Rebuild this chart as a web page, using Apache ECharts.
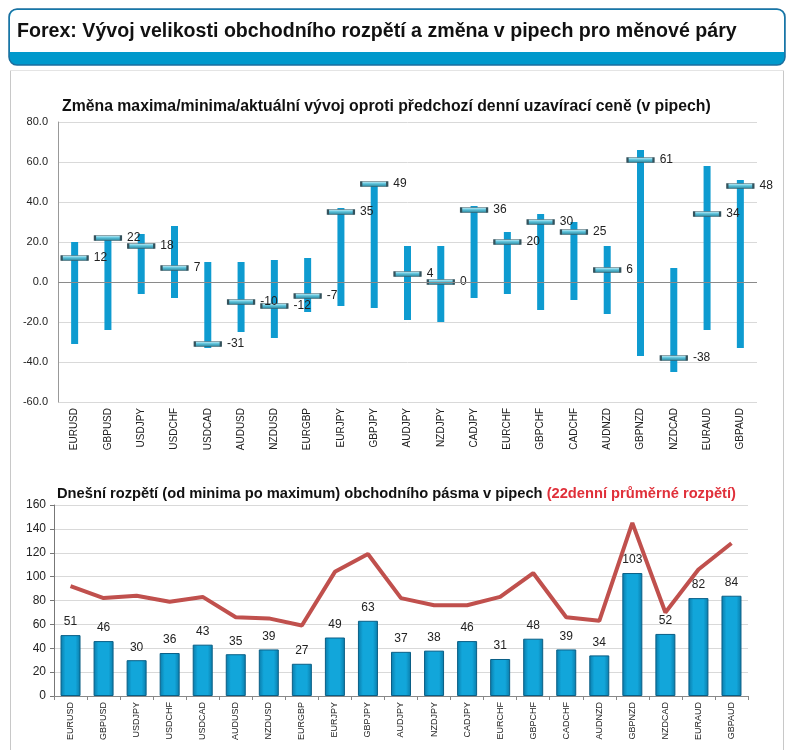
<!DOCTYPE html>
<html>
<head>
<meta charset="utf-8">
<script src="https://cdn.jsdelivr.net/npm/echarts@6/dist/echarts.min.js"></script>
<style>
html,body{margin:0;padding:0;background:#fff;}
#c{width:792px;height:750px;}
</style>
</head>
<body>
<div id="c"></div>
<script>
const categories = ['EURUSD','GBPUSD','USDJPY','USDCHF','USDCAD','AUDUSD','NZDUSD','EURGBP','EURJPY','GBPJPY','AUDJPY','NZDJPY','CADJPY','EURCHF','GBPCHF','CADCHF','AUDNZD','GBPNZD','NZDCAD','EURAUD','GBPAUD'];
const highs = [20,22,24,28,10,10,11,12,37,50,18,18,38,25,34,30,18,66,7,58,51];
const lows = [-31,-24,-6,-8,-33,-25,-28,-15,-12,-13,-19,-20,-8,-6,-14,-9,-16,-37,-45,-24,-33];
const current = [12,22,18,7,-31,-10,-12,-7,35,49,4,0,36,20,30,25,6,61,-38,34,48];
const ranges = [51,46,30,36,43,35,39,27,49,63,37,38,46,31,48,39,34,103,52,82,84];
const avg22 = [92,82,84,79,83,66,65,59,104,119,82,76,76,83,103,66,63,145,70,106,128];

const chart = echarts.init(document.getElementById('c'), null, {renderer:'canvas'});
const FONT = 'Arial, "Liberation Sans", sans-serif';

const rangeData = categories.map((c,i)=>[i, lows[i], highs[i]]);

const markerColor = new echarts.graphic.LinearGradient(0,0,0,1,[
  {offset:0,color:'#d8f3fa'},{offset:0.45,color:'#5cc3db'},{offset:1,color:'#2a7f96'}]);
const barColor = new echarts.graphic.LinearGradient(0,0,1,0,[
  {offset:0,color:'#0a7aa8'},{offset:0.25,color:'#12a6da'},{offset:0.75,color:'#12a6da'},{offset:1,color:'#0a7aa8'}]);

const option = {
  animation:false,
  textStyle:{fontFamily:FONT},
  graphic:[
    {type:'rect', shape:{x:9,y:9,width:776,height:56,r:8}, style:{fill:'#0099cc', stroke:'#1b6e9e', lineWidth:1.5}, z:0},
    {type:'rect', shape:{x:10,y:10,width:774,height:42,r:[7,7,0,0]}, style:{fill:'#ffffff'}, z:1},
    {type:'text', left:17, top:22, style:{text:'Forex: Vývoj velikosti obchodního rozpětí a změna v pipech pro měnové páry', font:'bold 19.6px '+FONT, fill:'#111'}, z:2},
    {type:'line', shape:{x1:10.5,y1:70,x2:10.5,y2:750}, style:{stroke:'#c8c8c8', lineWidth:1}},
    {type:'line', shape:{x1:783.5,y1:70,x2:783.5,y2:750}, style:{stroke:'#c8c8c8', lineWidth:1}},
    {type:'line', shape:{x1:10,y1:70.5,x2:784,y2:70.5}, style:{stroke:'#e4e4e4', lineWidth:1}},
    {type:'text', left:62, top:99, style:{text:'Změna maxima/minima/aktuální vývoj oproti předchozí denní uzavírací ceně (v pipech)', font:'bold 15.8px '+FONT, fill:'#111'}},
    {type:'text', left:57, top:486, style:{
      text:'{a|Dnešní rozpětí (od minima po maximum) obchodního pásma v pipech }{b|(22denní průměrné rozpětí)}',
      rich:{a:{font:'bold 14.7px '+FONT, fill:'#111'}, b:{font:'bold 14.7px '+FONT, fill:'#e0303a'}}}}
  ],
  grid:[
    {left:58, right:35, top:122, height:280},
    {left:54, right:44, top:505, height:191}
  ],
  xAxis:[
    {type:'category', gridIndex:0, data:categories, boundaryGap:true,
     axisLine:{show:false}, axisTick:{show:false},
     axisLabel:{rotate:90, fontSize:10, color:'#222', margin:6, interval:0}},
    {type:'category', gridIndex:1, data:categories, boundaryGap:true,
     axisLine:{show:true, lineStyle:{color:'#888'}}, axisTick:{show:true, length:4, lineStyle:{color:'#888'}},
     axisLabel:{rotate:90, fontSize:9, color:'#222', margin:6, interval:0}}
  ],
  yAxis:[
    {type:'value', gridIndex:0, min:-60, max:80, interval:20,
     axisLine:{show:true, lineStyle:{color:'#999'}}, axisTick:{show:false},
     axisLabel:{fontSize:11, color:'#222', margin:10, formatter:v=>v.toFixed(1)},
     splitLine:{lineStyle:{color:'#d9d9d9'}}},
    {type:'value', gridIndex:1, min:0, max:160, interval:20,
     axisLine:{show:true, lineStyle:{color:'#777'}}, axisTick:{show:true, length:4, lineStyle:{color:'#777'}},
     axisLabel:{fontSize:12, color:'#222', margin:8},
     splitLine:{lineStyle:{color:'#d9d9d9'}}}
  ],
  series:[
    {type:'custom', xAxisIndex:0, yAxisIndex:0, data:rangeData, encode:{x:0, y:[1,2]},
     renderItem:function(params, api){
       const x = api.value(0);
       const lo = api.coord([x, api.value(1)]);
       const hi = api.coord([x, api.value(2)]);
       return {type:'rect', shape:{x:lo[0]-3.5, y:hi[1], width:7, height:lo[1]-hi[1]}, style:{fill:'#0e9bd0'}};
     },
     markLine:{silent:true, symbol:'none', label:{show:false}, lineStyle:{color:'#8a8a8a', width:1, type:'solid'}, data:[{yAxis:0}]},
     z:2},
    {type:'scatter', xAxisIndex:0, yAxisIndex:0, data:current, symbol:'rect', symbolSize:[26,5],
     itemStyle:{color:markerColor, borderColor:'#34525c', borderWidth:1, opacity:1},
     label:{show:true, position:'right', distance:5, fontSize:12, color:'#222'}, z:3},
    {type:'bar', xAxisIndex:1, yAxisIndex:1, data:ranges, barWidth:20,
     itemStyle:{color:barColor, borderColor:'#0a5f86', borderWidth:1},
     label:{show:true, position:'top', distance:7, fontSize:12, color:'#222'}, z:2},
    {type:'line', xAxisIndex:1, yAxisIndex:1, data:avg22, symbol:'none',
     lineStyle:{color:'#c0504d', width:4}, z:3}
  ]
};
chart.setOption(option);
</script>
</body>
</html>
